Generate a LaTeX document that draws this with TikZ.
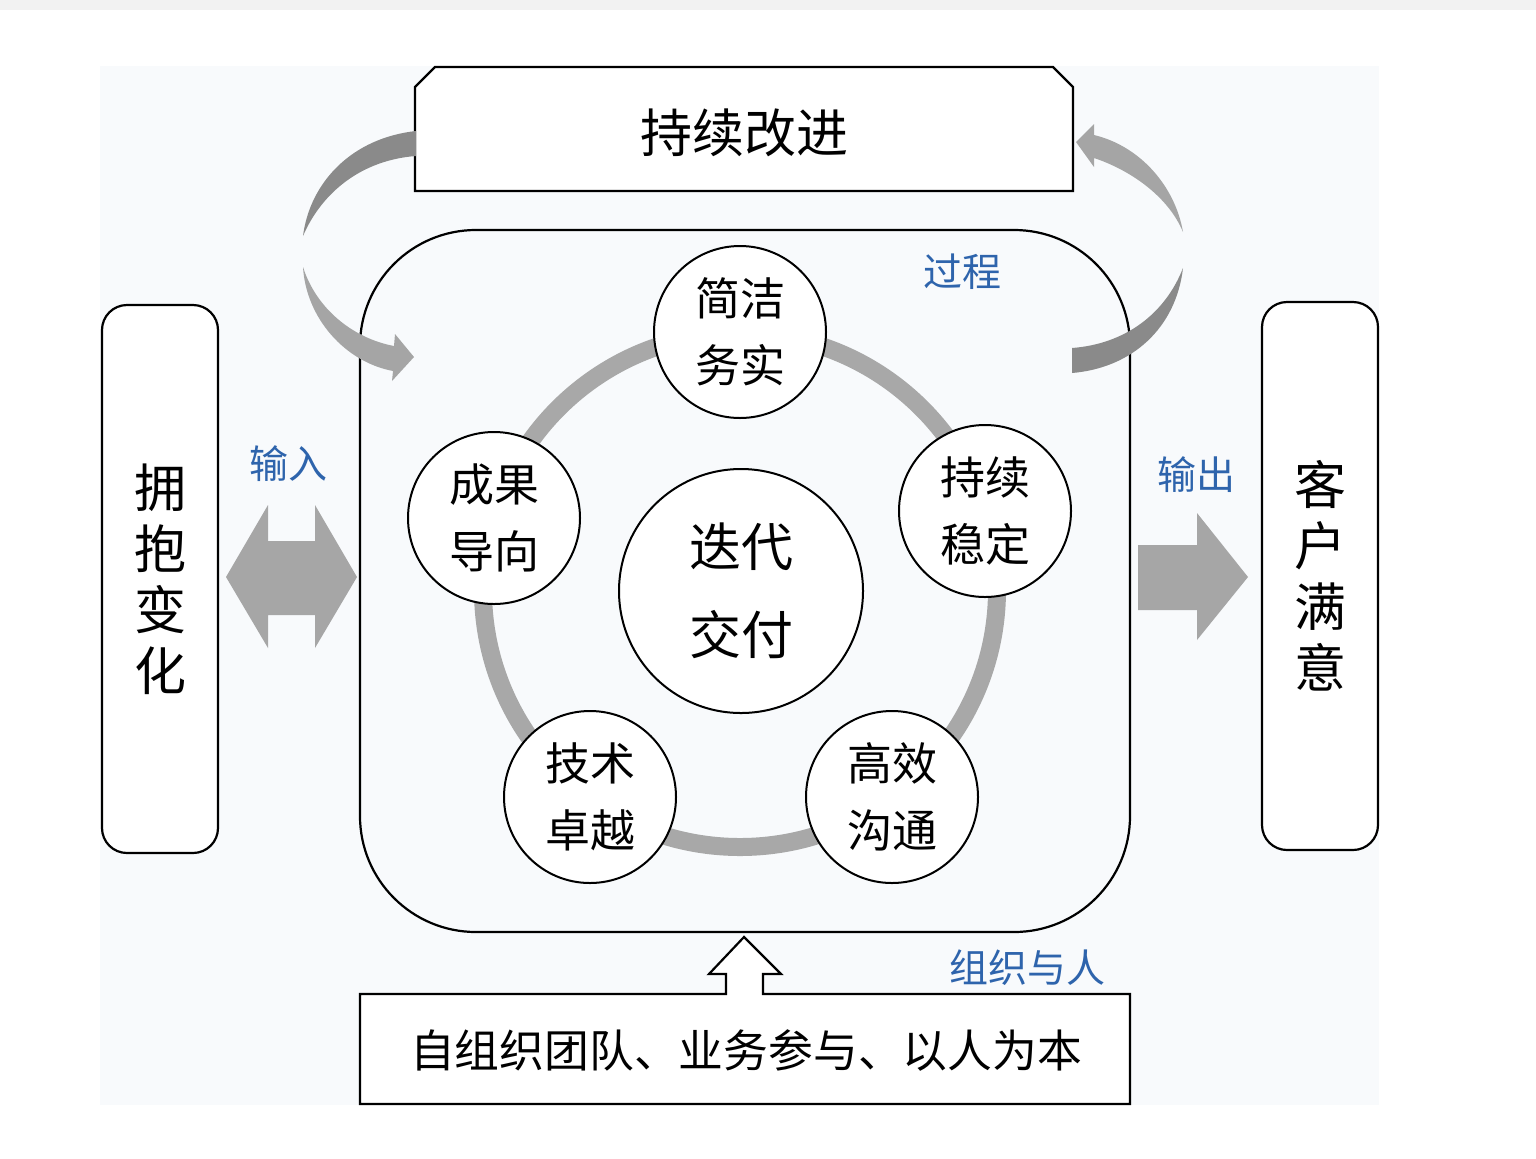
\documentclass[tikz,border=0pt]{standalone}
\usepackage{fontspec}
\setmainfont{Noto Sans CJK SC}
\definecolor{labelblue}{RGB}{46,100,172}
\definecolor{ringgray}{RGB}{168,168,168}
\definecolor{arrowgray}{RGB}{166,166,166}
\definecolor{darkgray2}{RGB}{138,138,138}
\definecolor{lightgray2}{RGB}{165,165,165}
\definecolor{panelbg}{RGB}{248,250,252}
\definecolor{bandgray}{RGB}{242,242,242}
\begin{document}
\begin{tikzpicture}[x=0.5pt,y=-0.5pt,
  box/.style={draw=black,line width=1.1pt,fill=white},
  bub/.style={circle,draw=black,line width=1pt,fill=white,inner sep=0pt,minimum size=86pt,align=center,font=\fontsize{22.5pt}{33.5pt}\selectfont},
  lbl/.style={text=labelblue,font=\fontsize{19.5pt}{22pt}\selectfont,inner sep=0pt},
  side/.style={box,rounded corners=12.5pt,minimum width=58pt,minimum height=274pt,inner sep=0pt,align=center,font=\fontsize{26pt}{30.5pt}\selectfont},
  bigtxt/.style={font=\fontsize{26pt}{31pt}\selectfont,inner sep=0pt},
  midtxt/.style={font=\fontsize{22.4pt}{26pt}\selectfont,inner sep=0pt}]
\useasboundingbox (0,0) rectangle (1536,1158);
\fill[white] (0,0) rectangle (1536,1158);
\fill[bandgray] (0,0) rectangle (1536,10);
\fill[panelbg] (100,66) rectangle (1379,1105);

% main process box
\node[draw=black,line width=1.1pt,rounded corners=58pt,minimum width=385pt,minimum height=351pt,inner sep=0pt] (process) at (745,581) {};

% top box (chamfered top corners)
\draw[box,line join=miter] (415,191) -- (415,87) -- (435,67) -- (1053,67) -- (1073,87) -- (1073,191) -- cycle;
\node[bigtxt] (improve) at (744,133) {持续改进};

% curved arrows (left)
\fill[darkgray2] (416,131) .. controls (352,138) and (310,182) .. (303,236) .. controls (322,192) and (362,160) .. (416,156) -- cycle;
\fill[lightgray2] (303,267) .. controls (306,318) and (345,362) .. (393,371) -- (392,381) -- (414,357) -- (395,334) -- (394,346) .. controls (352,338) and (316,308) .. (303,267) -- cycle;
% curved arrows (right)
\fill[darkgray2] (1072,373) .. controls (1132,368) and (1176,328) .. (1183,268) .. controls (1165,314) and (1125,344) .. (1072,348) -- cycle;
\fill[lightgray2] (1183,232) .. controls (1175,186) and (1140,146) .. (1094,135) -- (1094,124) -- (1076,142) -- (1094,167) -- (1094,158) .. controls (1130,170) and (1168,196) .. (1183,232) -- cycle;

% ring
\draw[ringgray,line width=9pt] (740,590) circle[radius=257];

% circles
\node[bub] (c1) at (740,332) {简洁\\务实};
\node[bub] (c2) at (494,518) {成果\\导向};
\node[bub] (c3) at (985,511) {持续\\稳定};
\node[bub] (c4) at (590,797) {技术\\卓越};
\node[bub] (c5) at (892,797) {高效\\沟通};
\node[circle,draw=black,line width=1pt,fill=white,inner sep=0pt,minimum size=122pt,align=center,font=\fontsize{26pt}{44pt}\selectfont] (core) at (741,591) {迭代\\交付};

% side boxes
\node[side] (embrace) at (160,579) {拥\\抱\\变\\化};
\node[side] (customer) at (1320,576) {客\\户\\满\\意};

% input / output arrows
\fill[arrowgray] (226,577) -- (268,505) -- (268,541) -- (315,541) -- (315,505) -- (357,577) -- (315,648) -- (315,615) -- (268,615) -- (268,648) -- cycle;
\fill[arrowgray] (1138,545) -- (1197,545) -- (1197,513) -- (1248,577) -- (1197,640) -- (1197,610) -- (1138,610) -- cycle;

% bottom box with up arrow
\draw[box,line join=miter] (763,994) -- (1130,994) -- (1130,1104) -- (360,1104) -- (360,994) -- (726,994) -- (726,974) -- (709,974) -- (744,937) -- (781,974) -- (763,974) -- cycle;
\node[midtxt] (people) at (746,1050) {自组织团队、业务参与、以人为本};

% blue labels
\node[lbl] (lprocess) at (962,272) {过程};
\node[lbl] (linput) at (288,464) {输入};
\node[lbl] (loutput) at (1196,475) {输出};
\node[lbl] (lorg) at (1027,968) {组织与人};
\end{tikzpicture}
\end{document}
